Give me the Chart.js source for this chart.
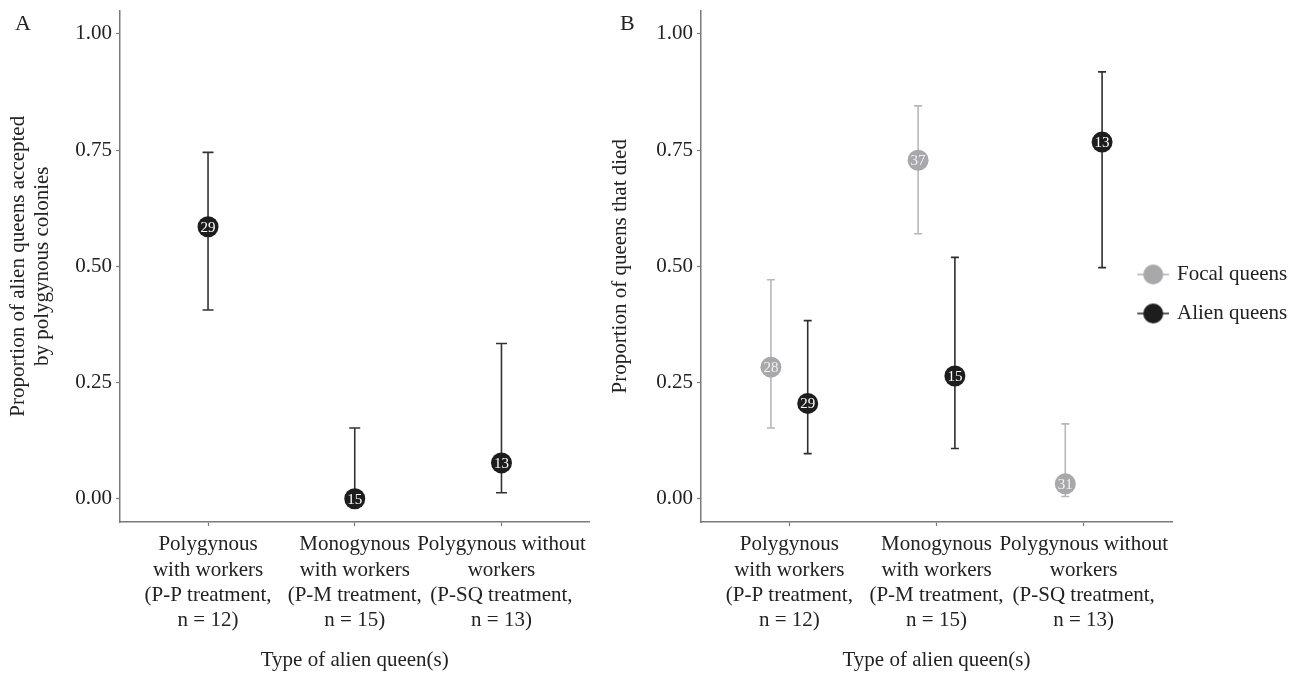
<!DOCTYPE html>
<html>
<head>
<meta charset="utf-8">
<script src="https://cdn.jsdelivr.net/npm/chart.js@4"></script>
<style>
  body { margin: 0; background: #fff; overflow: hidden; }
  #wrap { position: relative; width: 1299px; height: 673px; overflow: hidden; }
  canvas { position: absolute; top: 0; }
  .panel { position: absolute; top: 10px; font: 22px "Liberation Serif", serif; color: #222; }
</style>
</head>
<body>
<div id="wrap">
  <canvas id="chartA" width="600" height="673" style="left:0"></canvas>
  <canvas id="chartB" width="870" height="673" style="left:500px"></canvas>
  <div class="panel" style="left:15px">A</div>
  <div class="panel" style="left:620px">B</div>
</div>
<script>
// categories (x axis)
const categories = [
    ['Polygynous', 'with workers', '(P-P treatment,', 'n = 12)'],
    ['Monogynous', 'with workers', '(P-M treatment,', 'n = 15)'],
    ['Polygynous without', 'workers', '(P-SQ treatment,', 'n = 13)']
];
const yTicks = [0, 0.25, 0.5, 0.75, 1];

// panel A: alien queens accepted
const acceptMean = [0.585, 0.0, 0.077];
const acceptLow = [0.406, 0.0, 0.013];
const acceptHigh = [0.745, 0.152, 0.334];
const acceptN = [29, 15, 13];

// panel B: queens that died
const focalMean = [0.283, 0.728, 0.032];
const focalLow = [0.152, 0.570, 0.005];
const focalHigh = [0.471, 0.845, 0.161];
const focalN = [28, 37, 31];

const alienMean = [0.205, 0.264, 0.767];
const alienLow = [0.097, 0.108, 0.497];
const alienHigh = [0.383, 0.519, 0.918];
const alienN = [29, 15, 13];

const DODGE = 0.125;
const FONT = '"Liberation Serif", "Times New Roman", serif';
const TEXT = '#222';
const AXIS = '#7a7a7a';

function points(values, shift) {
    return values.map((v, i) => ({x: i + 1 + shift, y: v}));
}

const errorBars = {
    id: 'errorBars',
    beforeDatasetsDraw(chart) {
        const ctx = chart.ctx;
        const x = chart.scales.x, y = chart.scales.y;
        chart.data.datasets.forEach((ds) => {
            ctx.save();
            ctx.strokeStyle = ds.errorColor;
            ctx.lineWidth = 1.6;
            ds.data.forEach((p, j) => {
                const px = x.getPixelForValue(p.x);
                const lo = y.getPixelForValue(ds.low[j]);
                const hi = y.getPixelForValue(ds.high[j]);
                ctx.beginPath();
                ctx.moveTo(px, lo); ctx.lineTo(px, hi);
                ctx.moveTo(px - ds.cap, lo); ctx.lineTo(px + ds.cap, lo);
                ctx.moveTo(px - ds.cap, hi); ctx.lineTo(px + ds.cap, hi);
                ctx.stroke();
            });
            ctx.restore();
        });
    }
};

const countLabels = {
    id: 'countLabels',
    afterDatasetsDraw(chart) {
        const ctx = chart.ctx;
        chart.data.datasets.forEach((ds, i) => {
            const meta = chart.getDatasetMeta(i);
            ctx.save();
            ctx.fillStyle = ds.labelColor;
            ctx.font = '15px ' + FONT;
            ctx.textAlign = 'center';
            ctx.textBaseline = 'middle';
            meta.data.forEach((el, j) => {
                ctx.fillText(String(ds.counts[j]), el.x, el.y + 1);
            });
            ctx.restore();
        });
    }
};

// ggplot puts this legend over the right end of the panel
const legendInside = {
    id: 'legendInside',
    afterLayout(chart) {
        const lg = chart.legend;
        const w = lg.width;
        lg.left = chart.chartArea.right - 75;
        lg.right = lg.left + w;
    }
};

function xScale() {
    return {
        type: 'linear',
        min: 0.4,
        max: 3.6,
        afterBuildTicks: (scale) => { scale.ticks = [1, 2, 3].map(v => ({value: v})); },
        afterFit: (scale) => { scale.height = 151; },
        ticks: {
            callback: (v) => categories[v - 1],
            color: TEXT,
            font: {family: FONT, size: 21, lineHeight: 1.21},
            padding: 6,
            maxRotation: 0,
            autoSkip: false
        },
        grid: {drawOnChartArea: false, tickLength: 4, tickColor: AXIS, tickWidth: 1.2},
        border: {color: AXIS, width: 1.5},
        title: {
            display: true,
            text: 'Type of alien queen(s)',
            color: TEXT,
            font: {family: FONT, size: 21, lineHeight: 1.143},
            padding: {top: 0, bottom: 1}
        }
    };
}

function yScale(width, title, pad) {
    return {
        type: 'linear',
        min: -0.05,
        max: 1.05,
        afterBuildTicks: (scale) => { scale.ticks = yTicks.map(v => ({value: v})); },
        afterFit: (scale) => { scale.width = width; },
        ticks: {
            callback: (v) => v.toFixed(2),
            color: TEXT,
            font: {family: FONT, size: 21, lineHeight: 0.1},
            padding: 4
        },
        grid: {drawOnChartArea: false, tickLength: 4, tickColor: AXIS, tickWidth: 1.2},
        border: {color: AXIS, width: 1.5},
        title: {
            display: true,
            text: title,
            color: TEXT,
            font: {family: FONT, size: 21, lineHeight: 1.143},
            padding: {top: pad, bottom: 0}
        }
    };
}

new Chart(document.getElementById('chartA'), {
    type: 'scatter',
    data: {
        datasets: [{
            label: 'Alien queens',
            data: points(acceptMean, 0),
            low: acceptLow,
            high: acceptHigh,
            counts: acceptN,
            cap: 5.5,
            errorColor: '#333',
            labelColor: '#fff',
            backgroundColor: '#1d1d1d',
            borderWidth: 0,
            pointRadius: 10.5
        }]
    },
    options: {
        responsive: false,
        animation: false,
        events: [],
        layout: {padding: {top: 7, right: 10}},
        plugins: {legend: {display: false}, tooltip: {enabled: false}},
        scales: {
            x: xScale(),
            y: yScale(120, ['Proportion of alien queens accepted', 'by polygynous colonies'], 6)
        }
    },
    plugins: [errorBars, countLabels]
});

function legendIcon(lineColor, fill) {
    const c = document.createElement('canvas');
    c.width = 57;
    c.height = 24;
    const g = c.getContext('2d');
    g.strokeStyle = lineColor;
    g.lineWidth = 1.6;
    g.beginPath();
    g.moveTo(25, 12); g.lineTo(57, 12);
    g.stroke();
    g.fillStyle = fill;
    g.beginPath();
    g.arc(41, 12, 10, 0, Math.PI * 2);
    g.fill();
    return c;
}

const legendIcons = [legendIcon('#b5b5b5', '#a8a8aa'), legendIcon('#333', '#1d1d1d')];

new Chart(document.getElementById('chartB'), {
    type: 'scatter',
    data: {
        datasets: [{
            label: 'Focal queens',
            data: points(focalMean, -DODGE),
            low: focalLow,
            high: focalHigh,
            counts: focalN,
            cap: 4,
            errorColor: '#b8b8b8',
            labelColor: '#f2f2f2',
            backgroundColor: '#a8a8aa',
            borderWidth: 0,
            pointRadius: 10.5
        }, {
            label: 'Alien queens',
            data: points(alienMean, DODGE),
            low: alienLow,
            high: alienHigh,
            counts: alienN,
            cap: 4,
            errorColor: '#2e2e2e',
            labelColor: '#fff',
            backgroundColor: '#1d1d1d',
            borderWidth: 0,
            pointRadius: 10.5
        }]
    },
    options: {
        responsive: false,
        animation: false,
        events: [],
        layout: {padding: {top: 7, right: 3}},
        plugins: {
            tooltip: {enabled: false},
            legend: {
                position: 'right',
                align: 'start',
                fullSize: false,
                maxWidth: 195,
                title: {display: true, text: '', font: {size: 10, lineHeight: 1}, padding: {top: 225.5, bottom: 0}},
                labels: {
                    usePointStyle: true,
                    pointStyleWidth: 51.5,
                    padding: 18,
                    color: TEXT,
                    font: {family: FONT, size: 21},
                    generateLabels: (chart) => chart.data.datasets.map((ds, i) => ({
                        text: ds.label,
                        pointStyle: legendIcons[i],
                        fillStyle: ds.backgroundColor,
                        strokeStyle: ds.backgroundColor,
                        lineWidth: 0,
                        fontColor: TEXT,
                        hidden: false,
                        datasetIndex: i
                    }))
                }
            }
        },
        scales: {
            x: xScale(),
            y: yScale(201, 'Proportion of queens that died', 108)
        }
    },
    plugins: [errorBars, countLabels, legendInside]
});
</script>
</body>
</html>
